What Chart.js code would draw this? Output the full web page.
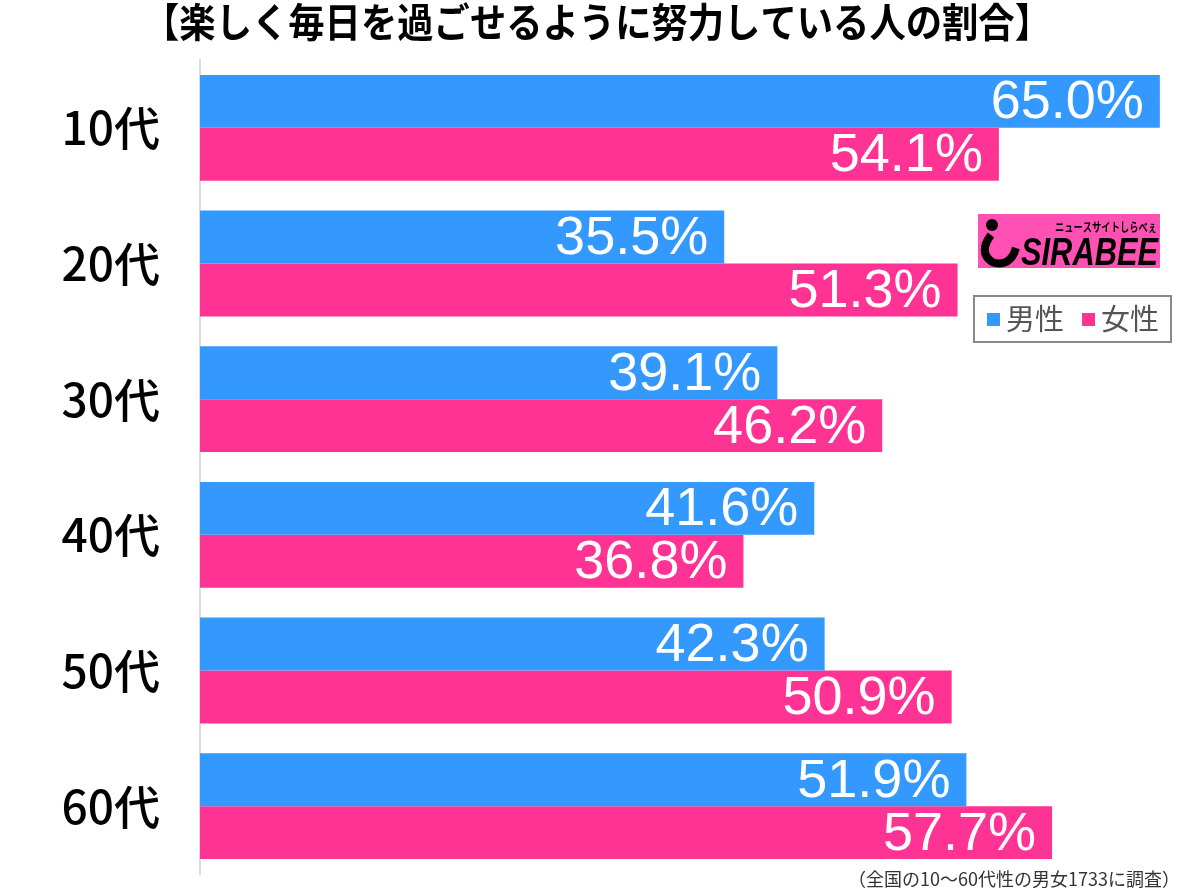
<!DOCTYPE html>
<html>
<head>
<meta charset="utf-8">
<script src="https://cdn.jsdelivr.net/npm/chart.js@4/dist/chart.umd.min.js"></script>
<style>
  html, body { margin: 0; padding: 0; background: #fff; }
  #wrap { width: 1200px; height: 891px; position: relative; }
</style>
</head>
<body>
<div id="wrap"><canvas id="barChart" width="1200" height="891"></canvas></div>
<script>
// 楽しく毎日を過ごせるように努力している人の割合
const chartTitle = '【楽しく毎日を過ごせるように努力している人の割合】';
const footNote = '（全国の10～60代性の男女1733に調査）';
const ageGroups = ['10代', '20代', '30代', '40代', '50代', '60代'];
const menValues = [65.0, 35.5, 39.1, 41.6, 42.3, 51.9];
const womenValues = [54.1, 51.3, 46.2, 36.8, 50.9, 57.7];
const seriesNames = ['男性', '女性'];

const blue = 'rgb(51,153,255)';
const pink = 'rgb(255,51,148)';

// 棒の右端に白い数値
const valueLabels = {
    id: 'valueLabels',
    afterDatasetsDraw(chart) {
        const ctx = chart.ctx;
        ctx.save();
        ctx.fillStyle = '#fff';
        ctx.font = '54px "Liberation Sans", Arial, sans-serif';
        ctx.textAlign = 'right';
        ctx.textBaseline = 'middle';
        chart.data.datasets.forEach((ds, i) => {
            chart.getDatasetMeta(i).data.forEach((bar, j) => {
                ctx.fillText(ds.data[j].toFixed(1) + '%', bar.x - 16, bar.y + 2);
            });
        });
        ctx.restore();
    }
};

// 幅を合わせて書く
function fitText(ctx, text, x, y, width) {
    const w = ctx.measureText(text).width;
    ctx.save();
    ctx.translate(x, y);
    ctx.scale(width / w, 1);
    ctx.fillText(text, 0, 0);
    ctx.restore();
}

// タイトル、ロゴ、凡例、注記
const extras = {
    id: 'extras',
    afterDraw(chart) {
        const ctx = chart.ctx;
        ctx.save();
        // title
        ctx.fillStyle = '#000';
        ctx.font = 'bold 40px "Noto Sans CJK JP", sans-serif';
        ctx.textAlign = 'center';
        ctx.textBaseline = 'middle';
        fitText(ctx, chartTitle, 597, 22, 908);

        // logo
        ctx.fillStyle = 'rgb(255,80,180)';
        ctx.fillRect(978, 214, 182, 54);
        ctx.fillStyle = '#000';
        ctx.beginPath();
        ctx.arc(992, 225, 6, 0, Math.PI * 2);
        ctx.fill();
        ctx.lineWidth = 8;
        ctx.strokeStyle = '#000';
        ctx.beginPath();
        ctx.moveTo(991, 235);
        ctx.quadraticCurveTo(978, 252, 992, 262);
        ctx.quadraticCurveTo(1010, 268, 1016, 248);
        ctx.stroke();
        ctx.font = 'italic bold 38px "Liberation Sans", Arial, sans-serif';
        ctx.textAlign = 'left';
        ctx.textBaseline = 'alphabetic';
        fitText(ctx, 'SIRABEE', 1021, 265, 137);
        ctx.font = 'bold 12px "Noto Sans CJK JP", sans-serif';
        fitText(ctx, 'ニュースサイトしらべぇ', 1055, 232, 102);

        // legend
        ctx.strokeStyle = '#888';
        ctx.lineWidth = 2;
        ctx.strokeRect(974, 296, 197, 46);
        ctx.font = '29px "Noto Sans CJK JP", sans-serif';
        ctx.textBaseline = 'middle';
        ctx.fillStyle = blue;
        ctx.fillRect(987, 313, 13, 13);
        ctx.fillStyle = '#555';
        ctx.fillText(seriesNames[0], 1006, 319);
        ctx.fillStyle = pink;
        ctx.fillRect(1082, 313, 13, 13);
        ctx.fillStyle = '#555';
        ctx.fillText(seriesNames[1], 1101, 319);

        // footnote
        ctx.fillStyle = '#333';
        ctx.font = '18px "Noto Sans CJK JP", sans-serif';
        ctx.textAlign = 'right';
        ctx.fillText(footNote, 1180, 879);
        ctx.restore();
    }
};

new Chart(document.getElementById('barChart'), {
    type: 'bar',
    data: {
        labels: ageGroups,
        datasets: [
            { label: seriesNames[0], data: menValues, backgroundColor: blue },
            { label: seriesNames[1], data: womenValues, backgroundColor: pink }
        ]
    },
    options: {
        indexAxis: 'y',
        responsive: false,
        animation: false,
        layout: { padding: { top: 60, bottom: 17, right: 18, left: 0 } },
        datasets: { bar: { categoryPercentage: 0.78, barPercentage: 1.0 } },
        plugins: { legend: { display: false }, tooltip: { enabled: false } },
        scales: {
            x: { display: false, min: 0, max: 66.5 },
            y: {
                grid: { display: false, drawTicks: true, tickLength: 40 },
                border: { color: '#ddd', width: 2 },
                ticks: {
                    color: '#000',
                    padding: 0,
                    font: { family: '"Noto Sans CJK JP", sans-serif', size: 46, weight: '500', lineHeight: 0.6 }
                },
                afterFit(scale) { scale.width = 200; }
            }
        }
    },
    plugins: [valueLabels, extras]
});
</script>
</body>
</html>
